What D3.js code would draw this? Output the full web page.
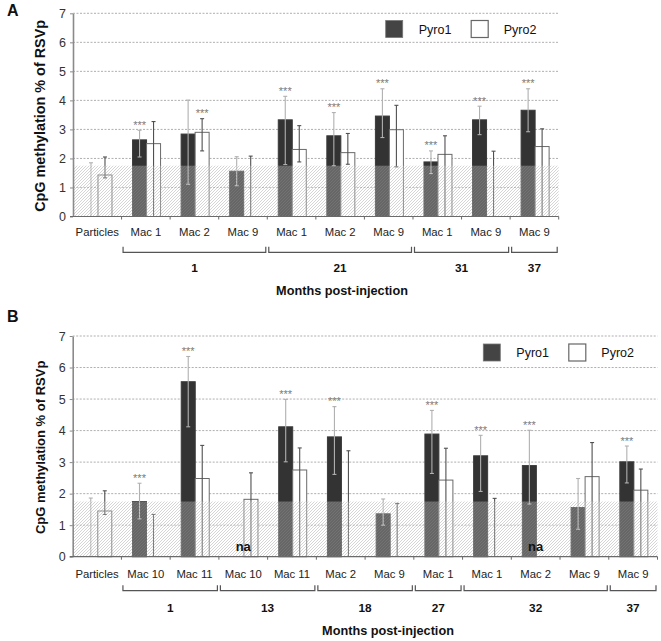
<!DOCTYPE html>
<html><head><meta charset="utf-8">
<script src="https://cdn.jsdelivr.net/npm/d3@7"></script>
<style>
html,body{margin:0;padding:0;background:#fff;}
svg{display:block;font-family:"Liberation Sans",Arial,Helvetica,sans-serif;}
</style></head>
<body>
<svg id="chart" width="661" height="641"></svg>
<script>
// ---------- Panel A data ----------
const catsA = ["Particles","Mac 1","Mac 2","Mac 9","Mac 1","Mac 2","Mac 9","Mac 1","Mac 9","Mac 9"];
const groupLabelsA = ["1","21","31","37"];
const groupSpansA = [[1,3],[4,6],[7,8],[9,9]];
const pyro1A   = [0,    2.64, 2.84, 1.56, 3.33, 2.78, 3.46, 1.88, 3.33, 3.66];
const pyro1LoA = [0,    2.05, 1.11, 1.06, 1.79, 1.75, 2.72, 1.48, 2.82, 2.92];
const pyro1HiA = [1.85, 2.97, 4.01, 2.06, 4.14, 3.58, 4.40, 2.26, 3.80, 4.40];
const pyro2A   = [1.43, 2.51, 2.90, 0,    2.31, 2.20, 2.99, 2.14, 0,    2.41];
const pyro2LoA = [1.33, 0,    2.26, 0,    1.88, 1.80, 1.71, 0,    0,    0];
const pyro2HiA = [2.05, 3.27, 3.37, 2.08, 3.13, 2.86, 3.83, 2.78, 2.25, 3.02];
const starsA   = [null,"Pyro1","Pyro2",null,"Pyro1","Pyro1","Pyro1","Pyro1","Pyro1","Pyro1"];

// ---------- Panel B data ----------
const catsB = ["Particles","Mac 10","Mac 11","Mac 10","Mac 11","Mac 2","Mac 9","Mac 1","Mac 1","Mac 2","Mac 9","Mac 9"];
const groupLabelsB = ["1","13","18","27","32","37"];
const groupSpansB = [[1,2],[3,4],[5,6],[7,7],[8,10],[11,11]];
const pyro1B   = [0,    1.75, 5.55, null, 4.12, 3.80, 1.36, 3.89, 3.20, 2.89, 1.56, 3.01];
const pyro1LoB = [0,    1.20, 4.12, null, 3.01, 2.61, 1.00, 2.64, 2.07, 1.67, 0.87, 2.34];
const pyro1HiB = [1.86, 2.33, 6.35, null, 4.99, 4.76, 1.83, 4.64, 3.85, 4.01, 2.48, 3.51];
const pyro2B   = [1.45, 0,    2.48, 1.82, 2.75, 0,    0,    2.43, 0,    null, 2.54, 2.11];
const pyro2LoB = [1.34, 0,    0,    0,    0,    0,    0,    0,    0,    null, 0,    0];
const pyro2HiB = [2.09, 1.34, 3.53, 2.66, 3.45, 3.36, 1.69, 3.44, 1.85, null, 3.62, 2.78];
const starsB   = [null,"Pyro1","Pyro1",null,"Pyro1","Pyro1",null,"Pyro1","Pyro1","Pyro1",null,"Pyro1"];

const series = ["Pyro1","Pyro2"];
const yTicks = [0,1,2,3,4,5,6,7];
const bandLevel = 1.75;
const yTitle = "CpG methylation % of RSVp";
const xTitle = "Months post-injection";

const svg = d3.select("#chart");
const defs = svg.append("defs");
const pat = defs.append("pattern").attr("id","hatch").attr("patternUnits","userSpaceOnUse")
  .attr("width",3).attr("height",3);
pat.append("rect").attr("width",3).attr("height",3).attr("fill","#fff").attr("fill-opacity",0.25);
pat.append("path").attr("d","M-1,1 l2,-2 M0,3 l3,-3 M2,4 l2,-2")
  .attr("stroke","#8a8a8a").attr("stroke-opacity",0.45).attr("stroke-width",0.8);

function drawPanel(cfg){
  const g = svg.append("g");
  const x = d3.scaleBand().domain(d3.range(cfg.cats.length)).range([cfg.left,cfg.right]);
  const bw = x.bandwidth();
  const xs = d3.scaleBand().domain(series).range([bw/2-13.3, bw/2+14.7]);
  const y = d3.scaleLinear().domain([0,7]).range([cfg.y0,cfg.yTop]);

  // panel letter
  g.append("text").attr("x",7).attr("y",cfg.letterY).attr("font-size",16).attr("font-weight","bold")
    .attr("fill","#111").text(cfg.letter);

  // gridlines
  g.append("g").selectAll("line").data(yTicks.filter(d=>d>0)).join("line")
    .attr("x1",cfg.left).attr("x2",cfg.right).attr("y1",d=>y(d)).attr("y2",d=>y(d))
    .attr("stroke","#9a9a9a").attr("stroke-width",0.8).attr("stroke-dasharray","2,1.5");

  const data = cfg.cats.map((c,i)=>({i,
    vals:[{s:"Pyro1",v:cfg.p1[i],lo:cfg.p1Lo[i],hi:cfg.p1Hi[i]},
          {s:"Pyro2",v:cfg.p2[i],lo:cfg.p2Lo[i],hi:cfg.p2Hi[i]}]}));
  const flat = [];
  data.forEach(d=>d.vals.forEach(v=>flat.push(Object.assign({i:d.i},v))));
  const present = flat.filter(d=>d.v!==null);

  // bars
  g.append("g").selectAll("rect").data(present.filter(d=>d.v>0)).join("rect")
    .attr("x",d=>x(d.i)+xs(d.s)).attr("width",xs.bandwidth())
    .attr("y",d=>y(d.v)).attr("height",d=>y(0)-y(d.v))
    .attr("fill",d=>d.s==="Pyro1"?"#333":"#fff")
    .attr("stroke",d=>d.s==="Pyro1"?"#3a3a3a":"#6a6a6a").attr("stroke-width",1);

  // error bars
  const eb = g.append("g").selectAll("g").data(present).join("g")
    .attr("stroke",d=>d.s==="Pyro1"?"#b0b0b0":"#505050").attr("stroke-width",1.1);
  const cx = d=>x(d.i)+xs(d.s)+xs.bandwidth()/2;
  eb.append("line").attr("x1",cx).attr("x2",cx).attr("y1",d=>y(d.lo)).attr("y2",d=>y(d.hi));
  eb.append("line").attr("x1",d=>cx(d)-2).attr("x2",d=>cx(d)+2).attr("y1",d=>y(d.hi)).attr("y2",d=>y(d.hi));
  eb.filter(d=>d.lo>0).append("line").attr("x1",d=>cx(d)-2).attr("x2",d=>cx(d)+2)
    .attr("y1",d=>y(d.lo)).attr("y2",d=>y(d.lo));

  // band overlay
  g.append("rect").attr("x",cfg.left).attr("width",cfg.right-cfg.left)
    .attr("y",y(bandLevel)).attr("height",y(0)-y(bandLevel)).attr("fill","url(#hatch)");

  // stars
  g.append("g").attr("opacity",0.999).selectAll("text").data(present.filter(d=>cfg.stars[d.i]===d.s)).join("text")
    .attr("x",cx).attr("y",d=>y(d.hi)-1.5).attr("text-anchor","middle")
    .attr("font-size",11).attr("fill","#7a7a7a").text("***");

  // na labels
  g.append("g").selectAll("text").data(flat.filter(d=>d.v===null)).join("text")
    .attr("x",d=>x(d.i)+bw/2).attr("y",y(0)-6).attr("text-anchor","middle")
    .attr("font-size",13).attr("font-weight","bold").attr("fill","#111").text("na");

  // y axis
  const ya = g.append("g").attr("transform",`translate(${cfg.left},0)`)
    .call(d3.axisLeft(y).tickValues(yTicks).tickFormat(d3.format("d")).tickSize(3).tickPadding(4).tickSizeOuter(0));
  ya.select(".domain").attr("stroke","#8a8a8a").attr("stroke-width",1.6);
  ya.selectAll(".tick line").attr("stroke","#8a8a8a");
  ya.selectAll(".tick text").attr("font-size",12.5).attr("fill","#333")
    .attr("font-family","Liberation Sans, Arial, sans-serif");

  // x axis
  const bounds = d3.range(cfg.cats.length+1).map(k=>cfg.left+k*bw);
  g.append("line").attr("x1",cfg.left-3).attr("x2",cfg.right).attr("y1",y(0)).attr("y2",y(0))
    .attr("stroke","#6a6a6a").attr("stroke-width",1.2);
  g.append("g").selectAll("line").data(bounds.slice(1)).join("line")
    .attr("x1",d=>d).attr("x2",d=>d).attr("y1",y(0)).attr("y2",y(0)+3)
    .attr("stroke","#6a6a6a").attr("stroke-width",1);
  g.append("g").selectAll("text").data(cfg.cats).join("text")
    .attr("x",(d,i)=>x(i)+bw/2).attr("y",cfg.catY).attr("text-anchor","middle")
    .attr("font-size",11.3).attr("fill","#222").text(d=>d);

  // group brackets
  const br = g.append("g").selectAll("g").data(cfg.groupSpans).join("g");
  br.append("path").attr("d",d=>{
      const a = x(d[0])+1.5, b = x(d[1])+bw-1.5;
      return `M${a},${cfg.brY-5.5}V${cfg.brY}H${b}V${cfg.brY-5.5}`;})
    .attr("fill","none").attr("stroke","#555").attr("stroke-width",1.2);
  br.append("text").attr("x",d=>(x(d[0])+x(d[1])+bw)/2).attr("y",cfg.grpY)
    .attr("text-anchor","middle").attr("font-size",11.8).attr("font-weight","bold").attr("fill","#111")
    .text((d,k)=>cfg.groupLabels[k]);

  // x title
  g.append("text").attr("x",cfg.xTitleX).attr("y",cfg.xTitleY).attr("text-anchor","middle")
    .attr("font-size",12.7).attr("font-weight","bold").attr("fill","#111").text(xTitle);

  // y title
  g.append("text").attr("transform",`translate(${cfg.yTitleX},${(cfg.y0+cfg.yTop)/2+1}) rotate(-90)`)
    .attr("text-anchor","middle").attr("font-size",cfg.yTitleSize).attr("font-weight","bold")
    .attr("fill","#111").attr("dy","0.35em").text(yTitle);

  // legend
  const lg = g.append("g");
  lg.append("rect").attr("x",cfg.legX).attr("y",cfg.legY).attr("width",17).attr("height",17)
    .attr("fill","#444").attr("stroke","#777").attr("stroke-width",0.8);
  lg.append("text").attr("x",cfg.legX+33).attr("y",cfg.legY+13).attr("font-size",12.5).attr("fill","#111").text(series[0]);
  lg.append("rect").attr("x",cfg.legX+85.5).attr("y",cfg.legY).attr("width",17).attr("height",17)
    .attr("fill","#fff").attr("stroke","#666").attr("stroke-width",1.2);
  lg.append("text").attr("x",cfg.legX+118).attr("y",cfg.legY+13).attr("font-size",12.5).attr("fill","#111").text(series[1]);
}

drawPanel({letter:"A", letterY:15.5, cats:catsA, groupLabels:groupLabelsA, groupSpans:groupSpansA,
  p1:pyro1A,p1Lo:pyro1LoA,p1Hi:pyro1HiA,p2:pyro2A,p2Lo:pyro2LoA,p2Hi:pyro2HiA,stars:starsA,
  left:73,right:558.7,yTop:13.3,y0:216.5,catY:236.3,brY:252.3,grpY:271.5,
  xTitleX:342,xTitleY:294.5,yTitleX:40,yTitleSize:14.4,legX:385.7,legY:20.5});

drawPanel({letter:"B", letterY:322, cats:catsB, groupLabels:groupLabelsB, groupSpans:groupSpansB,
  p1:pyro1B,p1Lo:pyro1LoB,p1Hi:pyro1HiB,p2:pyro2B,p2Lo:pyro2LoB,p2Hi:pyro2HiB,stars:starsB,
  left:72.7,right:657.5,yTop:336,y0:556.7,catY:577.5,brY:590.7,grpY:611.5,
  xTitleX:388,xTitleY:634.5,yTitleX:40,yTitleSize:13,legX:483.3,legY:344});
</script>
</body></html>
